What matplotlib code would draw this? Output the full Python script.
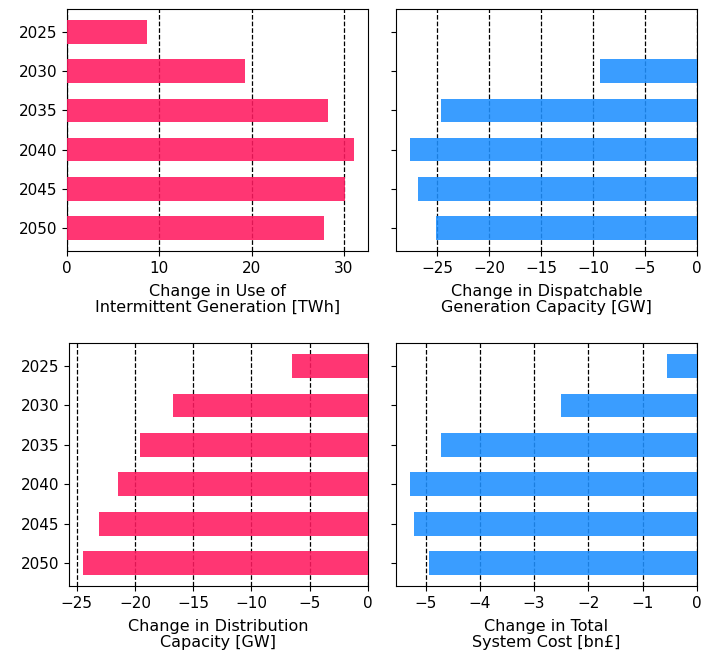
import numpy as np
import matplotlib
matplotlib.use("Agg")
import matplotlib.pyplot as plt

years = ["2025", "2030", "2035", "2040", "2045", "2050"]

# values
intermittent = [8.7, 19.3, 28.3, 31.05, 30.15, 27.8]
dispatchable = [0.0, -9.3, -24.6, -27.6, -26.9, -25.15]
distribution = [-6.55, -16.7, -19.6, -21.5, -23.1, -24.45]
system_cost = [-0.55, -2.51, -4.72, -5.28, -5.22, -4.93]

pink = "#ff1a60"
blue = "#1f90ff"

fig = plt.figure(figsize=(7.01, 6.51), dpi=100)
ax1 = fig.add_axes([0.0956, 0.6144, 0.4294, 0.3717])
ax2 = fig.add_axes([0.5649, 0.6144, 0.4294, 0.3717], sharey=ax1)
ax3 = fig.add_axes([0.0984, 0.0998, 0.4265, 0.3733])
ax4 = fig.add_axes([0.5649, 0.0998, 0.4294, 0.3733], sharey=ax3)

panels = [
    (ax1, intermittent, pink, "Change in Use of\nIntermittent Generation [TWh]"),
    (ax2, dispatchable, blue, "Change in Dispatchable\nGeneration Capacity [GW]"),
    (ax3, distribution, pink, "Change in Distribution\nCapacity [GW]"),
    (ax4, system_cost, blue, "Change in Total\nSystem Cost [bn£]"),
]

y = np.arange(len(years))
for ax, vals, col, lab in panels:
    ax.barh(y, vals, height=0.6, color=col, alpha=0.88, zorder=3)
    # dashed grid, shows faintly through the bars
    ax.grid(axis="x", color="black", linestyle="--", linewidth=0.9, zorder=2)
    ax.set_axisbelow(True)
    ax.set_yticks(y)
    ax.set_yticklabels(years)
    ax.set_xlabel(lab, fontsize=11.5, labelpad=6, linespacing=1.1)
    ax.tick_params(labelsize=11)

ax1.invert_yaxis()
ax3.invert_yaxis()
ax2.tick_params(labelleft=False)
ax4.tick_params(labelleft=False)

fig.savefig("out.png", dpi=100)
